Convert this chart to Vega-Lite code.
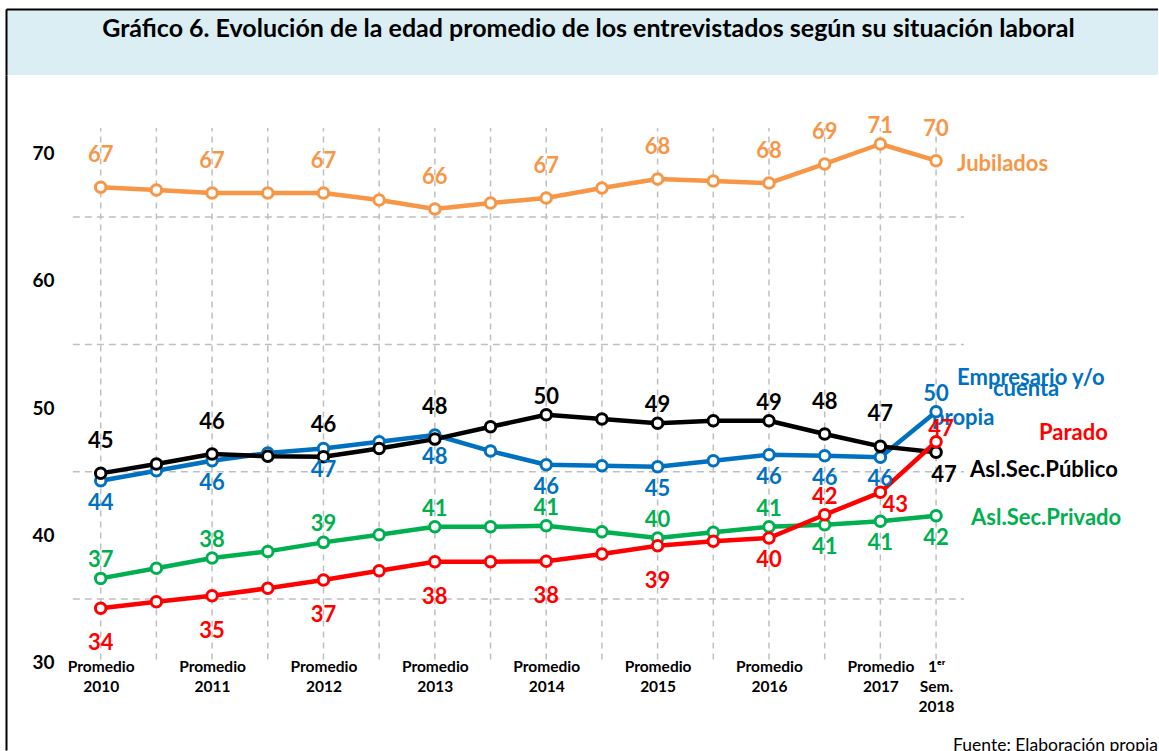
{
  "$schema": "https://vega.github.io/schema/vega-lite/v6.json",
  "padding": {"left": 6, "top": 9, "right": 0, "bottom": 0},
  "spacing": 0,
  "background": "white",
  "config": {"font": "Lato", "view": {"stroke": null}},
  "datasets": {
    "titulo": [{"t": "Gráfico 6. Evolución de la edad promedio de los entrevistados según su situación laboral"}],
    "rejilla": [{"g": 35}, {"g": 45}, {"g": 55}, {"g": 65}],
    "edad": [
      {"serie": "Jubilados", "i": 0, "v": 67.34, "lbl": "67"},
      {"serie": "Jubilados", "i": 1, "v": 67.12, "lbl": null},
      {"serie": "Jubilados", "i": 2, "v": 66.89, "lbl": "67"},
      {"serie": "Jubilados", "i": 3, "v": 66.89, "lbl": null},
      {"serie": "Jubilados", "i": 4, "v": 66.89, "lbl": "67"},
      {"serie": "Jubilados", "i": 5, "v": 66.34, "lbl": null},
      {"serie": "Jubilados", "i": 6, "v": 65.63, "lbl": "66"},
      {"serie": "Jubilados", "i": 7, "v": 66.1, "lbl": null},
      {"serie": "Jubilados", "i": 8, "v": 66.5, "lbl": "67"},
      {"serie": "Jubilados", "i": 9, "v": 67.28, "lbl": null},
      {"serie": "Jubilados", "i": 10, "v": 67.99, "lbl": "68"},
      {"serie": "Jubilados", "i": 11, "v": 67.83, "lbl": null},
      {"serie": "Jubilados", "i": 12, "v": 67.67, "lbl": "68"},
      {"serie": "Jubilados", "i": 13, "v": 69.17, "lbl": "69"},
      {"serie": "Jubilados", "i": 14, "v": 70.74, "lbl": "71"},
      {"serie": "Jubilados", "i": 15, "v": 69.43, "lbl": "70"},
      {"serie": "Asl.Sec.Privado", "i": 0, "v": 36.62, "lbl": "37"},
      {"serie": "Asl.Sec.Privado", "i": 1, "v": 37.41, "lbl": null},
      {"serie": "Asl.Sec.Privado", "i": 2, "v": 38.22, "lbl": "38"},
      {"serie": "Asl.Sec.Privado", "i": 3, "v": 38.74, "lbl": null},
      {"serie": "Asl.Sec.Privado", "i": 4, "v": 39.45, "lbl": "39"},
      {"serie": "Asl.Sec.Privado", "i": 5, "v": 40.05, "lbl": null},
      {"serie": "Asl.Sec.Privado", "i": 6, "v": 40.68, "lbl": "41"},
      {"serie": "Asl.Sec.Privado", "i": 7, "v": 40.68, "lbl": null},
      {"serie": "Asl.Sec.Privado", "i": 8, "v": 40.75, "lbl": "41"},
      {"serie": "Asl.Sec.Privado", "i": 9, "v": 40.28, "lbl": null},
      {"serie": "Asl.Sec.Privado", "i": 10, "v": 39.79, "lbl": "40"},
      {"serie": "Asl.Sec.Privado", "i": 11, "v": 40.24, "lbl": null},
      {"serie": "Asl.Sec.Privado", "i": 12, "v": 40.68, "lbl": "41"},
      {"serie": "Asl.Sec.Privado", "i": 13, "v": 40.83, "lbl": "41"},
      {"serie": "Asl.Sec.Privado", "i": 14, "v": 41.1, "lbl": "41"},
      {"serie": "Asl.Sec.Privado", "i": 15, "v": 41.54, "lbl": "42"},
      {"serie": "Empresario y/o cuenta propia", "i": 0, "v": 44.29, "lbl": "44"},
      {"serie": "Empresario y/o cuenta propia", "i": 1, "v": 45.07, "lbl": null},
      {"serie": "Empresario y/o cuenta propia", "i": 2, "v": 45.86, "lbl": "46"},
      {"serie": "Empresario y/o cuenta propia", "i": 3, "v": 46.47, "lbl": null},
      {"serie": "Empresario y/o cuenta propia", "i": 4, "v": 46.83, "lbl": "47"},
      {"serie": "Empresario y/o cuenta propia", "i": 5, "v": 47.35, "lbl": null},
      {"serie": "Empresario y/o cuenta propia", "i": 6, "v": 47.88, "lbl": "48"},
      {"serie": "Empresario y/o cuenta propia", "i": 7, "v": 46.62, "lbl": null},
      {"serie": "Empresario y/o cuenta propia", "i": 8, "v": 45.55, "lbl": "46"},
      {"serie": "Empresario y/o cuenta propia", "i": 9, "v": 45.47, "lbl": null},
      {"serie": "Empresario y/o cuenta propia", "i": 10, "v": 45.39, "lbl": "45"},
      {"serie": "Empresario y/o cuenta propia", "i": 11, "v": 45.86, "lbl": null},
      {"serie": "Empresario y/o cuenta propia", "i": 12, "v": 46.33, "lbl": "46"},
      {"serie": "Empresario y/o cuenta propia", "i": 13, "v": 46.25, "lbl": "46"},
      {"serie": "Empresario y/o cuenta propia", "i": 14, "v": 46.13, "lbl": "46"},
      {"serie": "Empresario y/o cuenta propia", "i": 15, "v": 49.71, "lbl": "50"},
      {"serie": "Asl.Sec.Público", "i": 0, "v": 44.87, "lbl": "45"},
      {"serie": "Asl.Sec.Público", "i": 1, "v": 45.6, "lbl": null},
      {"serie": "Asl.Sec.Público", "i": 2, "v": 46.39, "lbl": "46"},
      {"serie": "Asl.Sec.Público", "i": 3, "v": 46.21, "lbl": null},
      {"serie": "Asl.Sec.Público", "i": 4, "v": 46.17, "lbl": "46"},
      {"serie": "Asl.Sec.Público", "i": 5, "v": 46.83, "lbl": null},
      {"serie": "Asl.Sec.Público", "i": 6, "v": 47.56, "lbl": "48"},
      {"serie": "Asl.Sec.Público", "i": 7, "v": 48.53, "lbl": null},
      {"serie": "Asl.Sec.Público", "i": 8, "v": 49.47, "lbl": "50"},
      {"serie": "Asl.Sec.Público", "i": 9, "v": 49.14, "lbl": null},
      {"serie": "Asl.Sec.Público", "i": 10, "v": 48.8, "lbl": "49"},
      {"serie": "Asl.Sec.Público", "i": 11, "v": 49.0, "lbl": null},
      {"serie": "Asl.Sec.Público", "i": 12, "v": 49.0, "lbl": "49"},
      {"serie": "Asl.Sec.Público", "i": 13, "v": 47.96, "lbl": "48"},
      {"serie": "Asl.Sec.Público", "i": 14, "v": 46.99, "lbl": "47"},
      {"serie": "Asl.Sec.Público", "i": 15, "v": 46.52, "lbl": "47"},
      {"serie": "Parado", "i": 0, "v": 34.27, "lbl": "34"},
      {"serie": "Parado", "i": 1, "v": 34.78, "lbl": null},
      {"serie": "Parado", "i": 2, "v": 35.26, "lbl": "35"},
      {"serie": "Parado", "i": 3, "v": 35.84, "lbl": null},
      {"serie": "Parado", "i": 4, "v": 36.49, "lbl": "37"},
      {"serie": "Parado", "i": 5, "v": 37.22, "lbl": null},
      {"serie": "Parado", "i": 6, "v": 37.93, "lbl": "38"},
      {"serie": "Parado", "i": 7, "v": 37.93, "lbl": null},
      {"serie": "Parado", "i": 8, "v": 37.96, "lbl": "38"},
      {"serie": "Parado", "i": 9, "v": 38.53, "lbl": null},
      {"serie": "Parado", "i": 10, "v": 39.18, "lbl": "39"},
      {"serie": "Parado", "i": 11, "v": 39.53, "lbl": null},
      {"serie": "Parado", "i": 12, "v": 39.79, "lbl": "40"},
      {"serie": "Parado", "i": 13, "v": 41.62, "lbl": "42"},
      {"serie": "Parado", "i": 14, "v": 43.38, "lbl": "43"},
      {"serie": "Parado", "i": 15, "v": 47.35, "lbl": "47"}
    ]
  },
  "vconcat": [
    {
      "width": 1152,
      "height": 66,
      "view": {"fill": "#DAEEF3", "stroke": null},
      "data": {"name": "titulo"},
      "mark": {"type": "text", "fontWeight": "bold", "fontSize": 25, "color": "#000000", "align": "center", "baseline": "middle"},
      "encoding": {
        "x": {"datum": 0.5056, "type": "quantitative", "scale": {"domain": [0, 1], "nice": false, "zero": false},
              "axis": {"orient": "top", "title": null, "labels": false, "ticks": false, "grid": false, "domain": true, "domainColor": "#000000", "domainWidth": 2}},
        "y": {"datum": 0.7, "type": "quantitative", "scale": {"domain": [0, 1], "nice": false, "zero": false},
              "axis": {"orient": "left", "title": null, "labels": false, "ticks": false, "grid": false, "domain": true, "domainColor": "#000000", "domainWidth": 2}},
        "text": {"field": "t"}
      }
    },
    {
      "width": 1152,
      "height": 675,
      "title": {"text": "Fuente: Elaboración propia", "orient": "bottom", "anchor": "end", "frame": "group", "offset": -13, "fontSize": 17.5, "fontWeight": "normal", "color": "#000000"},
      "data": {"name": "edad"},
      "layer": [
        {
          "transform": [{"filter": "datum.serie == 'Jubilados'"}],
          "mark": {"type": "rule", "color": "#BFBFBF", "strokeWidth": 1.5, "strokeDash": [6, 5]},
          "encoding": {
            "x": {"field": "i", "type": "quantitative",
                  "scale": {"domain": [-1.7005, 18.985], "nice": false, "zero": false},
                  "axis": {"orient": "bottom", "title": null, "offset": -93, "domain": false, "ticks": false, "tickSize": 0, "grid": false,
                           "values": [0, 2, 4, 6, 8, 10, 12, 14, 15],
                           "labelExpr": "datum.value == 15 ? ['1ᵉʳ', 'Sem.', '2018'] : ['Promedio', '' + (2010 + datum.value / 2)]",
                           "labelFont": "Lato", "labelFontSize": 15.5, "labelFontWeight": "bold", "labelColor": "#000000",
                           "labelBaseline": "top", "labelLineHeight": 20, "labelPadding": 2, "labelFlush": false, "labelOverlap": false, "labelBound": false}},
            "y": {"datum": 30.25, "type": "quantitative",
                  "scale": {"domain": [23.14, 76.16], "nice": false, "zero": false},
                  "axis": {"orient": "left", "title": null, "domain": true, "domainColor": "#000000", "domainWidth": 2, "ticks": false, "tickSize": 0, "grid": false,
                           "values": [30, 40, 50, 60, 70], "labelFont": "Lato", "labelFontSize": 19, "labelFontWeight": "bold", "labelColor": "#000000",
                           "labelPadding": -48, "labelAlign": "right", "labelBaseline": "middle", "labelFlush": false, "labelOverlap": false, "labelBound": false}},
            "y2": {"datum": 72}
          }
        },
        {
          "data": {"name": "rejilla"},
          "mark": {"type": "rule", "color": "#BFBFBF", "strokeWidth": 1.5, "strokeDash": [7, 5]},
          "encoding": {
            "x": {"datum": -0.5, "type": "quantitative"},
            "x2": {"datum": 15.5},
            "y": {"field": "g", "type": "quantitative"}
          }
        },
        {
          "mark": {"type": "line", "strokeWidth": 4.5, "strokeJoin": "round"},
          "encoding": {
            "x": {"field": "i", "type": "quantitative"},
            "y": {"field": "v", "type": "quantitative"},
            "color": {"field": "serie", "type": "nominal", "legend": null,
                      "scale": {"domain": ["Jubilados", "Asl.Sec.Privado", "Empresario y/o cuenta propia", "Asl.Sec.Público", "Parado"],
                                "range": ["#F79646", "#00B050", "#0070C0", "#000000", "#FF0000"]}}
          }
        },
        {
          "transform": [{"filter": "datum.serie == 'Jubilados' && datum.i == 15"}],
          "mark": {"type": "text", "text": "Jubilados", "fontSize": 22, "fontWeight": "bold", "align": "left", "baseline": "middle", "dx": 21, "dy": 3},
          "encoding": {"x": {"field": "i", "type": "quantitative"}, "y": {"field": "v", "type": "quantitative"}, "color": {"field": "serie", "type": "nominal", "legend": null}}
        },
        {
          "transform": [{"filter": "datum.serie == 'Empresario y/o cuenta propia' && datum.i == 15"}],
          "mark": {"type": "text", "text": "Empresario y/o", "fontSize": 22, "fontWeight": "bold", "align": "left", "baseline": "middle", "dx": 21, "dy": -34},
          "encoding": {"x": {"field": "i", "type": "quantitative"}, "y": {"field": "v", "type": "quantitative"}, "color": {"field": "serie", "type": "nominal", "legend": null}}
        },
        {
          "transform": [{"filter": "datum.serie == 'Empresario y/o cuenta propia' && datum.i == 15"}],
          "mark": {"type": "text", "text": "cuenta", "fontSize": 22, "fontWeight": "bold", "align": "center", "baseline": "middle", "dx": 90, "dy": -23},
          "encoding": {"x": {"field": "i", "type": "quantitative"}, "y": {"field": "v", "type": "quantitative"}, "color": {"field": "serie", "type": "nominal", "legend": null}}
        },
        {
          "transform": [{"filter": "datum.serie == 'Empresario y/o cuenta propia' && datum.i == 15"}],
          "mark": {"type": "text", "text": "propia", "fontSize": 22, "fontWeight": "bold", "align": "left", "baseline": "middle", "dx": -4, "dy": 6},
          "encoding": {"x": {"field": "i", "type": "quantitative"}, "y": {"field": "v", "type": "quantitative"}, "color": {"field": "serie", "type": "nominal", "legend": null}}
        },
        {
          "transform": [{"filter": "datum.serie == 'Parado' && datum.i == 15"}],
          "mark": {"type": "text", "text": "Parado", "fontSize": 22, "fontWeight": "bold", "align": "left", "baseline": "middle", "dx": 103, "dy": -9},
          "encoding": {"x": {"field": "i", "type": "quantitative"}, "y": {"field": "v", "type": "quantitative"}, "color": {"field": "serie", "type": "nominal", "legend": null}}
        },
        {
          "transform": [{"filter": "datum.serie == 'Asl.Sec.Público' && datum.i == 15"}],
          "mark": {"type": "text", "text": "Asl.Sec.Público", "fontSize": 22, "fontWeight": "bold", "align": "left", "baseline": "middle", "dx": 34, "dy": 18},
          "encoding": {"x": {"field": "i", "type": "quantitative"}, "y": {"field": "v", "type": "quantitative"}, "color": {"field": "serie", "type": "nominal", "legend": null}}
        },
        {
          "transform": [{"filter": "datum.serie == 'Asl.Sec.Privado' && datum.i == 15"}],
          "mark": {"type": "text", "text": "Asl.Sec.Privado", "fontSize": 22, "fontWeight": "bold", "align": "left", "baseline": "middle", "dx": 35, "dy": 2},
          "encoding": {"x": {"field": "i", "type": "quantitative"}, "y": {"field": "v", "type": "quantitative"}, "color": {"field": "serie", "type": "nominal", "legend": null}}
        },
        {
          "mark": {"type": "point", "filled": false, "fill": "#FFFFFF", "fillOpacity": 1, "opacity": 1, "strokeWidth": 3, "size": 110},
          "encoding": {"x": {"field": "i", "type": "quantitative"}, "y": {"field": "v", "type": "quantitative"}, "color": {"field": "serie", "type": "nominal", "legend": null}}
        },
        {
          "transform": [{"filter": "datum.lbl != null && ((datum.serie == 'Jubilados' && datum.i != 14) || (datum.serie == 'Asl.Sec.Público' && indexof([0, 2, 4, 6, 13, 14], datum.i) >= 0))"}],
          "mark": {"type": "text", "fontSize": 22, "fontWeight": "bold", "align": "center", "baseline": "middle", "dy": -32},
          "encoding": {"x": {"field": "i", "type": "quantitative"}, "y": {"field": "v", "type": "quantitative"}, "text": {"field": "lbl"}, "color": {"field": "serie", "type": "nominal", "legend": null}}
        },
        {
          "transform": [{"filter": "datum.lbl != null && ((datum.serie == 'Jubilados' && datum.i == 14) || (datum.serie == 'Asl.Sec.Público' && indexof([8, 10, 12], datum.i) >= 0) || (datum.serie == 'Empresario y/o cuenta propia' && datum.i == 15) || (datum.serie == 'Asl.Sec.Privado' && datum.i <= 12) || (datum.serie == 'Parado' && datum.i == 13))"}],
          "mark": {"type": "text", "fontSize": 22, "fontWeight": "bold", "align": "center", "baseline": "middle", "dy": -18},
          "encoding": {"x": {"field": "i", "type": "quantitative"}, "y": {"field": "v", "type": "quantitative"}, "text": {"field": "lbl"}, "color": {"field": "serie", "type": "nominal", "legend": null}}
        },
        {
          "transform": [{"filter": "datum.lbl != null && ((datum.serie == 'Empresario y/o cuenta propia' && datum.i <= 14) || (datum.serie == 'Asl.Sec.Privado' && datum.i >= 13) || (datum.serie == 'Parado' && datum.i == 12))"}],
          "mark": {"type": "text", "fontSize": 22, "fontWeight": "bold", "align": "center", "baseline": "middle", "dy": 22},
          "encoding": {"x": {"field": "i", "type": "quantitative"}, "y": {"field": "v", "type": "quantitative"}, "text": {"field": "lbl"}, "color": {"field": "serie", "type": "nominal", "legend": null}}
        },
        {
          "transform": [{"filter": "datum.lbl != null && datum.serie == 'Parado' && datum.i <= 10"}],
          "mark": {"type": "text", "fontSize": 22, "fontWeight": "bold", "align": "center", "baseline": "middle", "dy": 35},
          "encoding": {"x": {"field": "i", "type": "quantitative"}, "y": {"field": "v", "type": "quantitative"}, "text": {"field": "lbl"}, "color": {"field": "serie", "type": "nominal", "legend": null}}
        },
        {
          "transform": [{"filter": "datum.serie == 'Parado' && datum.i == 14"}],
          "mark": {"type": "text", "fontSize": 22, "fontWeight": "bold", "align": "center", "baseline": "middle", "dx": 15, "dy": 13},
          "encoding": {"x": {"field": "i", "type": "quantitative"}, "y": {"field": "v", "type": "quantitative"}, "text": {"field": "lbl"}, "color": {"field": "serie", "type": "nominal", "legend": null}}
        },
        {
          "transform": [{"filter": "datum.serie == 'Parado' && datum.i == 15"}],
          "mark": {"type": "text", "fontSize": 22, "fontWeight": "bold", "align": "center", "baseline": "middle", "dx": 5, "dy": -13},
          "encoding": {"x": {"field": "i", "type": "quantitative"}, "y": {"field": "v", "type": "quantitative"}, "text": {"field": "lbl"}, "color": {"field": "serie", "type": "nominal", "legend": null}}
        },
        {
          "transform": [{"filter": "datum.serie == 'Asl.Sec.Público' && datum.i == 15"}],
          "mark": {"type": "text", "fontSize": 22, "fontWeight": "bold", "align": "center", "baseline": "middle", "dx": 8, "dy": 23},
          "encoding": {"x": {"field": "i", "type": "quantitative"}, "y": {"field": "v", "type": "quantitative"}, "text": {"field": "lbl"}, "color": {"field": "serie", "type": "nominal", "legend": null}}
        }
      ]
    }
  ]
}
